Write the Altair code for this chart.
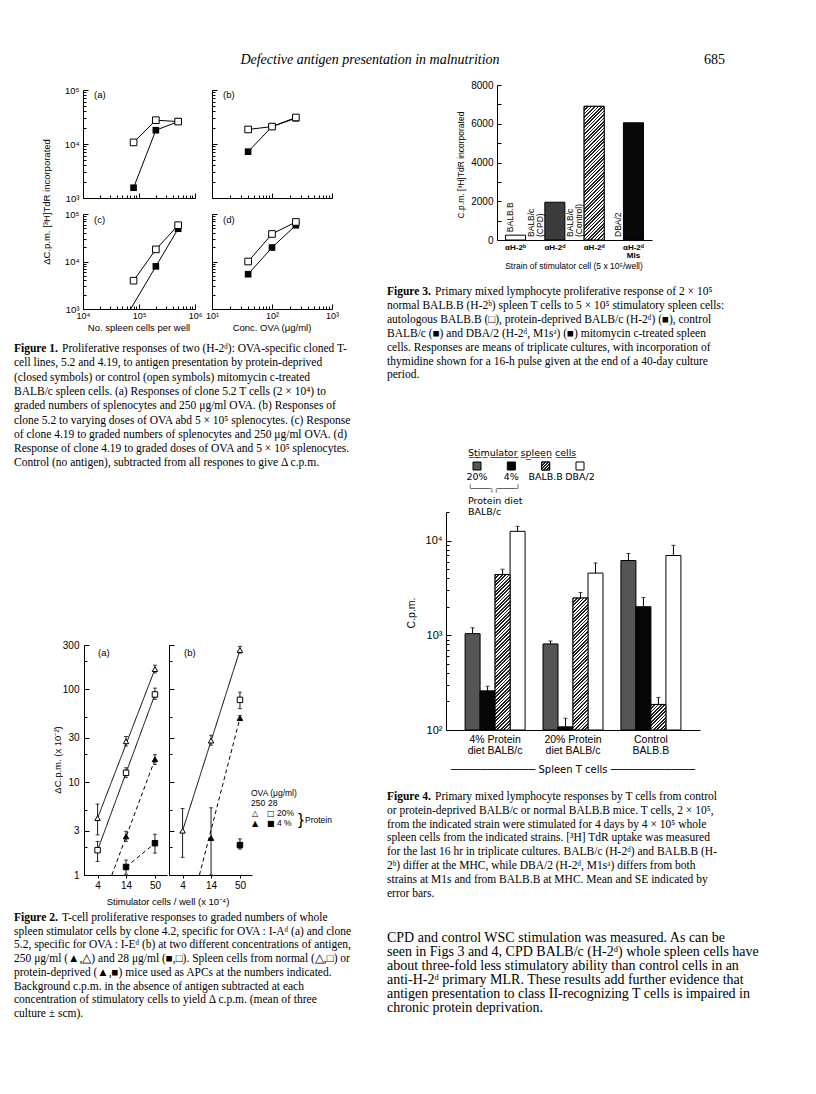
import math
import altair as alt
import pandas as pd

W, H = 800, 1078
SERIF = "Liberation Serif"
SANS = "Liberation Sans"
DJV = "DejaVu Sans"
MONO = "DejaVu Sans Mono"


def X(v):
    return v - 8


def Y(v):
    return v - 8


SUP = "['⁰','¹','²','³','⁴','⁵','⁶','⁷']"
DEC_LABEL = "'10' + " + SUP + "[round(log(datum.value) / LN10)]"
IS_DEC = "abs(log(datum.value) / LN10 - round(log(datum.value) / LN10)) < 0.01"

# ------------------------------------------------------------------ data
HEADER = "Defective antigen presentation in malnutrition"
PAGE_NO = "685"

# Figure 1
F1_AC_X = [8e4, 2e5, 5e5]
F1_BD_X = [40, 100, 250]
F1_A_OPEN = [1.07e4, 2.76e4, 2.6e4]
F1_A_CLOSED = [1.55e3, 1.8e4, 2.6e4]
F1_B_OPEN = [1.86e4, 2.1e4, 3.1e4]
F1_B_CLOSED = [7.2e3, 2.1e4, 3.0e4]
F1_C_OPEN = [3.95e3, 1.8e4, 5.8e4]
F1_C_CLOSED_X = [2e5, 5e5]
F1_C_CLOSED = [7.9e3, 4.9e4]
F1_C_CLOSED_LINE_X = [7.1e4, 2e5, 5e5]
F1_C_CLOSED_LINE_Y = [1e3, 7.9e3, 4.9e4]
F1_D_OPEN = [1.0e4, 3.8e4, 6.8e4]
F1_D_CLOSED = [5.4e3, 1.97e4, 5.8e4]
F1_XTITLE_L = "No. spleen cells per well"
F1_XTITLE_R = "Conc. OVA (μg/ml)"
F1_YTITLE = "ΔC.p.m. [³H]TdR incorporated"

F1_CAP_LEAD = "Figure 1."
F1_CAP = [
    "Proliferative responses of two (H-2ᵈ): OVA-specific cloned T-",
    "cell lines, 5.2 and 4.19, to antigen presentation by protein-deprived",
    "(closed symbols) or control (open symbols) mitomycin c-treated",
    "BALB/c spleen cells. (a) Responses of clone 5.2 T cells (2 × 10⁴) to",
    "graded numbers of splenocytes and 250 μg/ml OVA. (b) Responses of",
    "clone 5.2 to varying doses of OVA abd 5 × 10⁵ splenocytes. (c) Response",
    "of clone 4.19 to graded numbers of splenocytes and 250 μg/ml OVA. (d)",
    "Response of clone 4.19 to graded doses of OVA and 5 × 10⁵ splenocytes.",
    "Control (no antigen), subtracted from all respones to give Δ c.p.m.",
]

# Figure 2
F2_SERIES = ["to", "so", "tc", "sc"]
F2_XTICKS = [4, 14, 50]
F2_YLABELS = [1, 3, 10, 30, 100, 300]
F2_YTICKS = [1, 2, 3, 5, 10, 20, 30, 50, 100, 200, 300]
F2A_TO_X = [4, 14, 50]
F2A_TO = [4.1, 27.5, 165]
F2A_TO_LO = [2.7, 24.5, 150]
F2A_TO_HI = [5.8, 31, 182]
F2A_SO_X = [4, 14, 50]
F2A_SO = [1.85, 12.6, 88]
F2A_SO_LO = [1.4, 11.2, 78]
F2A_SO_HI = [2.3, 14.3, 103]
F2A_TC_X = [14, 50]
F2A_TC = [2.6, 17.6]
F2A_TC_LO = [2.3, 15.5]
F2A_TC_HI = [2.95, 19.8]
F2A_SC_X = [14, 50]
F2A_SC = [1.22, 2.2]
F2A_SC_LO = [1.02, 1.72]
F2A_SC_HI = [1.45, 2.75]
F2A_LINE_TO = ([4, 50], [4.1, 165])
F2A_LINE_SO = ([4, 50], [1.85, 88])
F2A_LINE_TC = ([7.5, 50], [1.0, 17.6])
F2A_LINE_SC = ([14, 50], [1.22, 2.2])

F2B_TO_X = [4, 14, 50]
F2B_TO = [3.0, 28, 265]
F2B_TO_LO = [1.55, 25, 245]
F2B_TO_HI = [5.2, 32, 290]
F2B_SO_X = [50]
F2B_SO = [77]
F2B_SO_LO = [62]
F2B_SO_HI = [93]
F2B_TC_X = [14, 50]
F2B_TC = [2.5, 49]
F2B_TC_LO = [1.0, 46]
F2B_TC_HI = [5.3, 52]
F2B_SC_X = [50]
F2B_SC = [2.1]
F2B_SC_LO = [1.9]
F2B_SC_HI = [2.45]
F2B_LINE_TO = ([4, 50], [3.0, 265])
F2B_LINE_TC = ([8.4, 50], [1.0, 49])

F2_XTITLE = "Stimulator cells / well (x 10⁻⁴)"
F2_YTITLE = "ΔC.p.m. (x 10⁻²)"
F2_CAP_LEAD = "Figure 2."
F2_CAP = [
    "T-cell proliferative responses to graded numbers of whole",
    "spleen stimulator cells by clone 4.2, specific for OVA : I-Aᵈ (a) and clone",
    "5.2, specific for OVA : I-Eᵈ (b) at two different concentrations of antigen,",
    "250 μg/ml (▲,△) and 28 μg/ml (■,□). Spleen cells from normal (△,□) or",
    "protein-deprived (▲,■) mice used as APCs at the numbers indicated.",
    "Background c.p.m. in the absence of antigen subtracted at each",
    "concentration of stimulatory cells to yield Δ c.p.m. (mean of three",
    "culture ± scm).",
]

# Figure 3
F3_STRAINS = ["BALB.B", "BALB/c (CPD)", "BALB/c (Control)", "DBA/2"]
F3_CPM = [250, 1950, 6900, 6050]
F3_LABEL_FAR = ["", "BALB/c", "BALB/c", ""]
F3_LABEL_NEAR = ["BALB.B", "(CPD)", "(Control)", "DBA/2"]
F3_AXIS_LABELS = ["αH-2ᵇ", "αH-2ᵈ", "αH-2ᵈ", "αH-2ᵈ|Mls"]
F3_FILLS = ["white", "#3b3b3b", "#a9a9a9", "#080808"]
F3_HATCHED = "BALB/c (Control)"
F3_YTITLE = "C.p.m. [³H]TdR incorporated"
F3_XTITLE = "Strain of stimulator cell (5 x 10⁵/well)"
F3_CAP_LEAD = "Figure 3."
F3_CAP = [
    "Primary mixed lymphocyte proliferative response of 2 × 10⁵",
    "normal BALB.B (H-2ᵇ) spleen T cells to 5 × 10⁵ stimulatory spleen cells:",
    "autologous BALB.B (□), protein-deprived BALB/c (H-2ᵈ) (■), control",
    "BALB/c (■) and DBA/2 (H-2ᵈ, M1sᵃ) (■) mitomycin c-treated spleen",
    "cells. Responses are means of triplicate cultures, with incorporation of",
    "thymidine shown for a 16-h pulse given at the end of a 40-day culture",
    "period.",
]

# Figure 4
F4_GROUPS = ["4% Protein diet BALB/c", "20% Protein diet BALB/c", "Control BALB.B"]
F4_GROUP_LABELS = ["4% Protein|diet BALB/c", "20% Protein|diet BALB/c", "Control|BALB.B"]
F4_STIMS = ["20%", "4%", "BALB.B", "DBA/2"]
F4_FILLS = ["#555555", "#060606", "#a3a3a3", "white"]
F4_HATCHED = "BALB.B"
F4_MEAN_4PCT = [1040, 259, 4380, 12500]
F4_TOP_4PCT = [1200, 290, 4980, 14100]
F4_MEAN_20PCT = [810, 108, 2470, 4530]
F4_TOP_20PCT = [870, 133, 2830, 5800]
F4_MEAN_CTRL = [6150, 2000, 186, 6950]
F4_TOP_CTRL = [7300, 2500, 221, 8900]
F4_LEGEND_TITLE = "Stimulator spleen cells"
F4_LEGEND_NOTE = ["Protein diet", "BALB/c"]
F4_YTITLE = "C.p.m."
F4_XTITLE = "Spleen T cells"
F4_CAP_LEAD = "Figure 4."
F4_CAP = [
    "Primary mixed lymphocyte responses by T cells from control",
    "or protein-deprived BALB/c or normal BALB.B mice. T cells, 2 × 10⁵,",
    "from the indicated strain were stimulated for 4 days by 4 × 10⁵ whole",
    "spleen cells from the indicated strains. [³H] TdR uptake was measured",
    "for the last 16 hr in triplicate cultures. BALB/c (H-2ᵈ) and BALB.B (H-",
    "2ᵇ) differ at the MHC, while DBA/2 (H-2ᵈ, M1sᵃ) differs from both",
    "strains at M1s and from BALB.B at MHC. Mean and SE indicated by",
    "error bars.",
]

BODY = [
    "CPD and control WSC stimulation was measured. As can be",
    "seen in Figs 3 and 4, CPD BALB/c (H-2ᵈ) whole spleen cells have",
    "about three-fold less stimulatory ability than control cells in an",
    "anti-H-2ᵈ primary MLR. These results add further evidence that",
    "antigen presentation to class II-recognizing T cells is impaired in",
    "chronic protein deprivation.",
]

CAP_SIZE = 11.5
LEAD_W = 48


# ------------------------------------------------------------------ helpers
def log_ticks(e0, e1):
    v = [k * 10 ** e for e in range(e0, e1) for k in range(1, 10)]
    return v + [10 ** e1]


def ax_left(xl, values=None, labels=True, expr=None, fmt=None, size=9.5, pad=3):
    kw = dict(orient="left", offset=-X(xl), labels=labels, ticks=False, domain=True,
              domainColor="black", domainWidth=1, grid=False, title=None,
              labelFont=SANS, labelFontSize=size, labelColor="black", labelPadding=pad,
              labelOverlap=False, labelFlush=False)
    if values is not None:
        kw["values"] = values
    if expr:
        kw["labelExpr"] = expr
    if fmt:
        kw["format"] = fmt
    return alt.Axis(**kw)


def ax_bottom(yb, values=None, labels=True, expr=None, fmt=None, size=9.5, pad=3,
              ticks=False, tick_size=3, weight="normal", line_h=None):
    kw = dict(orient="bottom", offset=Y(yb) - H, labels=labels, ticks=ticks, domain=True,
              domainColor="black", domainWidth=1, grid=False, title=None,
              labelFont=SANS, labelFontSize=size, labelColor="black", labelPadding=pad,
              labelOverlap=False, labelFlush=False, labelFontWeight=weight, labelAngle=0)
    if ticks:
        kw["tickSize"] = tick_size
        kw["tickColor"] = "black"
    if values is not None:
        kw["values"] = values
    if expr:
        kw["labelExpr"] = expr
    if fmt:
        kw["format"] = fmt
    if line_h:
        kw["labelLineHeight"] = line_h
    return alt.Axis(**kw)


def tick_size(test, major, minor):
    if test is None:
        return major
    return {"condition": {"test": test, "value": major}, "value": minor}


def ax_in_y(xl, values, test=IS_DEC, major=5, minor=3):
    return alt.Axis(orient="right", offset=X(xl) - W, values=values, labels=False,
                    domain=False, ticks=True, tickSize=tick_size(test, major, minor),
                    tickColor="black", tickWidth=1, grid=False, title=None)


def ax_in_x(yb, values, test=IS_DEC, major=5, minor=3):
    return alt.Axis(orient="top", offset=-Y(yb), values=values, labels=False,
                    domain=False, ticks=True, tickSize=tick_size(test, major, minor),
                    tickColor="black", tickWidth=1, grid=False, title=None)


def hatch(w, h, period=3.6, frac=0.45, dark="#222222", light="white"):
    """Diagonal (////) hatching as a hard-stop linear gradient for a w x h box."""
    r = h / w
    span = w * (1 + r * r)
    dt = period / span
    stops = []
    k = 0
    while k * dt < 1:
        a = k * dt
        b = min(a + frac * dt, 1)
        c = min((k + 1) * dt, 1)
        stops += [{"offset": a, "color": dark}, {"offset": b, "color": dark},
                  {"offset": b, "color": light}, {"offset": c, "color": light}]
        k += 1
    return {"gradient": "linear", "x1": 0, "y1": 0, "x2": 1, "y2": r, "stops": stops}


def txt(s, x, y, size=10, font=SANS, weight="normal", style="normal", align="left",
        baseline="alphabetic", angle=0):
    return alt.Chart(pd.DataFrame({"t": [s]})).mark_text(
        align=align, baseline=baseline, fontSize=size, font=font, fontWeight=weight,
        fontStyle=style, angle=angle, color="black",
    ).encode(x=alt.value(X(x)), y=alt.value(Y(y)), text="t:N")


def block(lines, x, y0, lh, size, font=SERIF):
    n = max(len(lines) - 1, 1)
    df = pd.DataFrame({"t": lines, "i": list(range(len(lines)))})
    return alt.Chart(df).mark_text(
        align="left", baseline="alphabetic", fontSize=size, font=font, color="black"
    ).encode(
        x=alt.value(X(x)),
        y=alt.Y("i:Q", scale=alt.Scale(domain=[0, n], range=[Y(y0), Y(y0 + lh * n)]), axis=None),
        text="t:N",
    )


def caption(lead, lines, x, y0, lh, size, lead_w):
    return [
        txt(lead, x, y0, size=size, font=SERIF, weight="bold"),
        txt(lines[0], x + lead_w, y0, size=size, font=SERIF),
        block(lines[1:], x, y0 + lh, lh, size),
    ]


layers = []

# ------------------------------------------------------------------ header
layers.append(txt(HEADER, 370, 64, size=14, font=SERIF, style="italic", align="center"))
layers.append(txt(PAGE_NO, 725, 64, size=14, font=SERIF, align="right"))


# ------------------------------------------------------------------ figure 1
def f1_panel(box, xdom, e0, e1, xs, y_open, xs_cp, y_cp, xs_cl, y_cl, ylab, xlab):
    xl, xr, yt, yb = box
    xsc = alt.Scale(type="log", domain=xdom, range=[X(xl), X(xr)], nice=False)
    ysc = alt.Scale(type="log", domain=[1e3, 1e5], range=[Y(yb), Y(yt)], nice=False)
    open_df = pd.DataFrame({"x": xs, "y": y_open})
    cl_df = pd.DataFrame({"x": xs_cl, "y": y_cl})
    cp_df = pd.DataFrame({"x": xs_cp, "y": y_cp})
    out = []
    out.append(alt.Chart(open_df).mark_line(color="black", strokeWidth=1).encode(
        x=alt.X("x:Q", scale=xsc, axis=ax_bottom(yb, [10 ** e0, 10 ** (e0 + 1), 10 ** e1],
                                                   labels=xlab, expr=DEC_LABEL, size=9, pad=2)),
        y=alt.Y("y:Q", scale=ysc, axis=ax_left(xl, [1e3, 1e4, 1e5], labels=ylab,
                                                 expr=DEC_LABEL, size=9.5, pad=4)),
    ))
    out.append(alt.Chart(cl_df).mark_line(color="black", strokeWidth=1).encode(
        x=alt.X("x:Q", scale=xsc, axis=ax_in_x(yb, log_ticks(e0, e1))),
        y=alt.Y("y:Q", scale=ysc, axis=ax_in_y(xl, log_ticks(3, 5))),
    ))
    out.append(alt.Chart(cp_df).mark_square(size=44, color="black", opacity=1).encode(
        x=alt.X("x:Q", scale=xsc, axis=None), y=alt.Y("y:Q", scale=ysc, axis=None)))
    out.append(alt.Chart(open_df).mark_square(size=44, fill="white", stroke="black",
                                                strokeWidth=1, opacity=1).encode(
        x=alt.X("x:Q", scale=xsc, axis=None), y=alt.Y("y:Q", scale=ysc, axis=None)))
    return out


B_A = (83, 195, 90, 198)
B_B = (212, 332, 90, 198)
B_C = (83, 195, 214, 309)
B_D = (212, 332, 214, 309)
layers += f1_panel(B_A, [1e4, 1e6], 4, 6, F1_AC_X, F1_A_OPEN, F1_AC_X, F1_A_CLOSED,
                   F1_AC_X, F1_A_CLOSED, True, False)
layers += f1_panel(B_B, [10, 1000], 1, 3, F1_BD_X, F1_B_OPEN, F1_BD_X, F1_B_CLOSED,
                   F1_BD_X, F1_B_CLOSED, False, False)
layers += f1_panel(B_C, [1e4, 1e6], 4, 6, F1_AC_X, F1_C_OPEN, F1_C_CLOSED_X, F1_C_CLOSED,
                   F1_C_CLOSED_LINE_X, F1_C_CLOSED_LINE_Y, True, True)
layers += f1_panel(B_D, [10, 1000], 1, 3, F1_BD_X, F1_D_OPEN, F1_BD_X, F1_D_CLOSED,
                   F1_BD_X, F1_D_CLOSED, False, True)
layers.append(txt("(a)", 94, 98, size=9.5))
layers.append(txt("(b)", 223, 98, size=9.5))
layers.append(txt("(c)", 94, 223, size=9.5))
layers.append(txt("(d)", 223, 223, size=9.5))
layers.append(txt(F1_XTITLE_L, 139, 331, size=9.5, align="center"))
layers.append(txt(F1_XTITLE_R, 272, 331, size=9.5, align="center"))
layers.append(txt(F1_YTITLE, 47, 202, size=9.5, align="center", baseline="middle", angle=270))
layers += caption(F1_CAP_LEAD, F1_CAP, 14, 352, 14.3, CAP_SIZE, LEAD_W)


# ------------------------------------------------------------------ figure 2
def series_df(spec):
    rows = []
    for s, xs, ys, lo, hi in spec:
        for i in range(len(xs)):
            rows.append({"s": s, "x": xs[i], "y": ys[i], "lo": lo[i], "hi": hi[i]})
    return pd.DataFrame(rows)


def lines_df(spec):
    rows = []
    for s, (xs, ys) in spec:
        for i in range(len(xs)):
            rows.append({"s": s, "x": xs[i], "y": ys[i]})
    return pd.DataFrame(rows)


F2_XDOM = [2.2, 85]
MAJ2 = "indexof([1, 3, 10, 30, 100, 300], datum.value) >= 0"


def f2_panel(box, pts, lns, ylab):
    xl, xr, yt, yb = box
    xsc = alt.Scale(type="log", domain=F2_XDOM, range=[X(xl), X(xr)], nice=False)
    ysc = alt.Scale(type="log", domain=[1, 300], range=[Y(yb), Y(yt)], nice=False)
    shape = alt.Shape("s:N", scale=alt.Scale(domain=F2_SERIES,
                      range=["triangle-up", "square", "triangle-up", "square"]), legend=None)
    fill = alt.Fill("s:N", scale=alt.Scale(domain=F2_SERIES,
                    range=["white", "white", "black", "black"]), legend=None)
    dash = alt.StrokeDash("s:N", scale=alt.Scale(domain=F2_SERIES,
                          range=[[1, 0], [1, 0], [4, 3], [4, 3]]), legend=None)
    caps = pd.concat([pts[["s", "x"]].assign(c=pts["lo"]), pts[["s", "x"]].assign(c=pts["hi"])])
    out = []
    out.append(alt.Chart(lns).mark_line(color="black", strokeWidth=1).encode(
        x=alt.X("x:Q", scale=xsc, axis=ax_bottom(yb, F2_XTICKS, fmt="d", ticks=True,
                                                   tick_size=3, size=10, pad=2)),
        y=alt.Y("y:Q", scale=ysc, axis=ax_left(xl, F2_YLABELS, labels=ylab, fmt="d",
                                                 size=10, pad=5)),
        detail="s:N", strokeDash=dash,
    ))
    out.append(alt.Chart(pts).mark_rule(color="black", strokeWidth=0.9).encode(
        x=alt.X("x:Q", scale=xsc, axis=None),
        y=alt.Y("lo:Q", scale=ysc, axis=ax_in_y(xl, F2_YTICKS, test=MAJ2, major=5, minor=3)),
        y2="hi:Q",
    ))
    out.append(alt.Chart(caps).mark_tick(orient="horizontal", size=4, thickness=1,
                                         color="black").encode(
        x=alt.X("x:Q", scale=xsc, axis=None), y=alt.Y("c:Q", scale=ysc, axis=None)))
    out.append(alt.Chart(pts).mark_point(filled=True, stroke="black", strokeWidth=1,
                                         size=30, opacity=1).encode(
        x=alt.X("x:Q", scale=xsc, axis=None), y=alt.Y("y:Q", scale=ysc, axis=None),
        shape=shape, fill=fill))
    return out


pts_a = series_df([
    ("to", F2A_TO_X, F2A_TO, F2A_TO_LO, F2A_TO_HI),
    ("so", F2A_SO_X, F2A_SO, F2A_SO_LO, F2A_SO_HI),
    ("tc", F2A_TC_X, F2A_TC, F2A_TC_LO, F2A_TC_HI),
    ("sc", F2A_SC_X, F2A_SC, F2A_SC_LO, F2A_SC_HI),
])
lns_a = lines_df([("to", F2A_LINE_TO), ("so", F2A_LINE_SO), ("tc", F2A_LINE_TC),
                  ("sc", F2A_LINE_SC)])
pts_b = series_df([
    ("to", F2B_TO_X, F2B_TO, F2B_TO_LO, F2B_TO_HI),
    ("so", F2B_SO_X, F2B_SO, F2B_SO_LO, F2B_SO_HI),
    ("tc", F2B_TC_X, F2B_TC, F2B_TC_LO, F2B_TC_HI),
    ("sc", F2B_SC_X, F2B_SC, F2B_SC_LO, F2B_SC_HI),
])
lns_b = lines_df([("to", F2B_LINE_TO), ("tc", F2B_LINE_TC)])

layers += f2_panel((84, 167, 645, 875), pts_a, lns_a, True)
layers += f2_panel((169, 252, 645, 875), pts_b, lns_b, False)
layers.append(txt("(a)", 98, 656, size=9.5))
layers.append(txt("(b)", 184, 656, size=9.5))
layers.append(txt(F2_YTITLE, 58, 760, size=9.5, align="center", baseline="middle", angle=270))
layers.append(txt(F2_XTITLE, 168, 905, size=9.5, align="center"))
# legend of figure 2
layers.append(txt("OVA (μg/ml)", 251, 796, size=8.5))
layers.append(txt("250", 251, 806, size=8.5))
layers.append(txt("28", 268, 806, size=8.5))
layers.append(txt("△", 252, 816, size=8, font=DJV))
layers.append(txt("□", 267, 816, size=8, font=DJV))
layers.append(txt("20%", 277, 816, size=8.5))
layers.append(txt("▲", 252, 826, size=8, font=DJV))
layers.append(txt("■", 267, 826, size=8, font=DJV))
layers.append(txt("4 %", 277, 826, size=8.5))
layers.append(txt("}", 298, 820, size=17, font=SANS, baseline="middle"))
layers.append(txt("Protein", 305, 823, size=8.5))
layers += caption(F2_CAP_LEAD, F2_CAP, 14, 921, 13.7, CAP_SIZE, LEAD_W)

# ------------------------------------------------------------------ figure 3
F3_XL, F3_XR, F3_YT, F3_YB = 497, 652, 85, 240
F3_PI, F3_PO = 0.49, 0.217
f3 = pd.DataFrame({"s": F3_STRAINS, "v": F3_CPM, "far": F3_LABEL_FAR,
                   "near": F3_LABEL_NEAR, "z": [0] * 4})
f3_x = alt.Scale(domain=F3_STRAINS, range=[X(F3_XL), X(F3_XR)], paddingInner=F3_PI,
                 paddingOuter=F3_PO)
f3_y = alt.Scale(domain=[0, 8000], range=[Y(F3_YB), Y(F3_YT)], nice=False, zero=True)
f3_lab_expr = ("split([" + ",".join("'%s'" % s for s in F3_AXIS_LABELS) + "][indexof(["
               + ",".join("'%s'" % s for s in F3_STRAINS) + "], datum.value)], '|')")
layers.append(alt.Chart(f3).mark_bar(stroke="black", strokeWidth=1, opacity=1).encode(
    x=alt.X("s:N", scale=f3_x, axis=ax_bottom(F3_YB, expr=f3_lab_expr, size=8, pad=3,
                                              weight="bold", line_h=8)),
    y=alt.Y("v:Q", scale=f3_y, axis=ax_left(F3_XL, [0, 2000, 4000, 6000, 8000], size=10,
                                             fmt="d", pad=4)),
    fill=alt.Fill("s:N", scale=alt.Scale(domain=F3_STRAINS, range=F3_FILLS), legend=None),
))
# hatched overlay for the control bar
f3_step = (F3_XR - F3_XL) / (len(F3_STRAINS) - F3_PI + 2 * F3_PO)
f3_bw = f3_step * (1 - F3_PI)
f3_hv = F3_CPM[F3_STRAINS.index(F3_HATCHED)]
f3_hh = f3_hv / 8000 * (F3_YB - F3_YT)
layers.append(alt.Chart(f3).transform_filter(alt.datum.s == F3_HATCHED).mark_bar(
    stroke="black", strokeWidth=1, opacity=1, fill=hatch(f3_bw, f3_hh, period=3.4, frac=0.5),
).encode(
    x=alt.X("s:N", scale=f3_x, axis=None),
    y=alt.Y("v:Q", scale=f3_y, axis=None),
))
# rotated strain names, centred in the gap to the left of each bar
layers.append(alt.Chart(f3).transform_filter(alt.datum.s != F3_STRAINS[0]).mark_text(
    angle=270, align="left", baseline="middle", fontSize=8.5, font=SANS,
    xOffset=-15, yOffset=-3, color="black",
).encode(
    x=alt.X("s:N", scale=f3_x, axis=None),
    y=alt.Y("z:Q", scale=f3_y, axis=ax_in_y(F3_XL, list(range(0, 8001, 1000)), test=None,
                                             major=4)),
    text="near:N",
))
layers.append(alt.Chart(f3).transform_filter(alt.datum.far != "").mark_text(
    angle=270, align="left", baseline="middle", fontSize=8.5, font=SANS,
    xOffset=-24, yOffset=-3, color="black",
).encode(
    x=alt.X("s:N", scale=f3_x, axis=None),
    y=alt.Y("z:Q", scale=f3_y, axis=None),
    text="far:N",
))
layers.append(alt.Chart(f3).transform_filter(alt.datum.s == F3_STRAINS[0]).mark_text(
    angle=270, align="left", baseline="middle", fontSize=8.5, font=SANS,
    xOffset=-6, yOffset=-3, color="black",
).encode(
    x=alt.X("s:N", scale=f3_x, axis=None),
    y=alt.Y("v:Q", scale=f3_y, axis=None),
    text="near:N",
))
layers.append(txt(F3_YTITLE, 461, 165, size=8.5, align="center", baseline="middle", angle=270))
layers.append(txt(F3_XTITLE, 574, 269, size=8.5, align="center"))
layers += caption(F3_CAP_LEAD, F3_CAP, 387, 295, 13.9, CAP_SIZE, LEAD_W)

# ------------------------------------------------------------------ figure 4
F4_XL, F4_XR, F4_YT, F4_YB = 446, 700, 512, 730
F4_PI, F4_PO = 0.23, 0.245
F4_YDOM = [100, 20000]
rows = []
for g, means, tops in [(F4_GROUPS[0], F4_MEAN_4PCT, F4_TOP_4PCT),
                       (F4_GROUPS[1], F4_MEAN_20PCT, F4_TOP_20PCT),
                       (F4_GROUPS[2], F4_MEAN_CTRL, F4_TOP_CTRL)]:
    for s, m, t in zip(F4_STIMS, means, tops):
        rows.append({"g": g, "s": s, "v": m, "e": t})
f4 = pd.DataFrame(rows)
f4_x = alt.Scale(domain=F4_GROUPS, range=[X(F4_XL), X(F4_XR)], paddingInner=F4_PI,
                 paddingOuter=F4_PO)
f4_off = alt.Scale(domain=F4_STIMS, paddingInner=0, paddingOuter=0)
f4_y = alt.Scale(type="log", domain=F4_YDOM, range=[Y(F4_YB), Y(F4_YT)], nice=False)
f4_fill = alt.Fill("s:N", scale=alt.Scale(domain=F4_STIMS, range=F4_FILLS), legend=None)
f4_lab_expr = ("split([" + ",".join("'%s'" % s for s in F4_GROUP_LABELS) + "][indexof(["
               + ",".join("'%s'" % s for s in F4_GROUPS) + "], datum.value)], '|')")
layers.append(alt.Chart(f4).mark_bar(stroke="black", strokeWidth=1, opacity=1).encode(
    x=alt.X("g:N", scale=f4_x, axis=ax_bottom(F4_YB, expr=f4_lab_expr, size=10.5, pad=4,
                                              line_h=11)),
    xOffset=alt.XOffset("s:N", scale=f4_off),
    y=alt.Y("v:Q", scale=f4_y, axis=ax_left(F4_XL, [100, 1000, 10000], expr=DEC_LABEL,
                                             size=11, pad=4)),
    y2=alt.datum(100),
    fill=f4_fill,
))
# hatched overlays for the BALB.B stimulator bars
f4_step = (F4_XR - F4_XL) / (len(F4_GROUPS) - F4_PI + 2 * F4_PO)
f4_bw = f4_step * (1 - F4_PI) / len(F4_STIMS)
f4_dec = (F4_YB - F4_YT) / math.log10(F4_YDOM[1] / F4_YDOM[0])
for g in F4_GROUPS:
    v = f4[(f4.g == g) & (f4.s == F4_HATCHED)].v.iloc[0]
    hh = math.log10(v / F4_YDOM[0]) * f4_dec
    layers.append(alt.Chart(f4).transform_filter(
        (alt.datum.g == g) & (alt.datum.s == F4_HATCHED)
    ).mark_bar(stroke="black", strokeWidth=1, opacity=1,
               fill=hatch(f4_bw, hh, period=3.4, frac=0.5)).encode(
        x=alt.X("g:N", scale=f4_x, axis=None),
        xOffset=alt.XOffset("s:N", scale=f4_off),
        y=alt.Y("v:Q", scale=f4_y, axis=None),
        y2=alt.datum(100),
    ))
layers.append(alt.Chart(f4).mark_rule(color="black", strokeWidth=1).encode(
    x=alt.X("g:N", scale=f4_x, axis=None),
    xOffset=alt.XOffset("s:N", scale=f4_off),
    y=alt.Y("v:Q", scale=f4_y, axis=ax_in_y(F4_XL, log_ticks(2, 4) + [20000])),
    y2="e:Q",
))
layers.append(alt.Chart(f4).mark_tick(orient="horizontal", size=4, thickness=1,
                                      color="black").encode(
    x=alt.X("g:N", scale=f4_x, axis=None),
    xOffset=alt.XOffset("s:N", scale=f4_off),
    y=alt.Y("e:Q", scale=f4_y, axis=None),
))
# legend of figure 4
leg = pd.DataFrame({"s": F4_STIMS})
leg_x = alt.Scale(type="point", domain=F4_STIMS, range=[X(477), X(580)], padding=0)
layers.append(alt.Chart(leg).mark_square(size=64, stroke="black", strokeWidth=1,
                                         opacity=1).encode(
    x=alt.X("s:N", scale=leg_x, axis=None), y=alt.value(Y(466)), fill=f4_fill,
))
layers.append(alt.Chart(leg).transform_filter(alt.datum.s == F4_HATCHED).mark_square(
    size=64, stroke="black", strokeWidth=1, opacity=1, fill=hatch(8, 8, period=3, frac=0.5),
).encode(x=alt.X("s:N", scale=leg_x, axis=None), y=alt.value(Y(466))))
layers.append(alt.Chart(leg).mark_text(fontSize=9.5, font=DJV, baseline="alphabetic",
                                       color="black").encode(
    x=alt.X("s:N", scale=leg_x, axis=None), y=alt.value(Y(480)), text="s:N",
))


def underline(s):
    return "".join(c + ("\u0332" if c != " " else "") for c in s)


layers.append(txt(underline(F4_LEGEND_TITLE), 468, 456, size=9.5, font=DJV))
layers.append(txt("╰────╮╭────╯", 494, 489, size=7.2, font=MONO, align="center",
                  baseline="middle"))
layers.append(txt(F4_LEGEND_NOTE[0], 468, 504, size=9.5, font=DJV))
layers.append(txt(F4_LEGEND_NOTE[1], 468, 515, size=9.5, font=DJV))
layers.append(txt(F4_YTITLE, 412, 613, size=10.5, align="center", baseline="middle", angle=270))
layers.append(txt("─" * 14 + "  " + F4_XTITLE + "  " + "─" * 14, 573, 773, size=10,
                  font=DJV, align="center"))
layers += caption(F4_CAP_LEAD, F4_CAP, 387, 800, 13.8, CAP_SIZE, LEAD_W)

# ------------------------------------------------------------------ body text
layers.append(block(BODY, 387, 942, 14, 14))

chart = alt.layer(*layers).resolve_scale(
    x="independent", y="independent", xOffset="independent", fill="independent",
    shape="independent", strokeDash="independent",
).resolve_axis(x="independent", y="independent").properties(
    width=W, height=H, padding=0
).configure_view(strokeOpacity=0)

chart.save("out.html", embed_options={"renderer": "svg", "actions": False})
